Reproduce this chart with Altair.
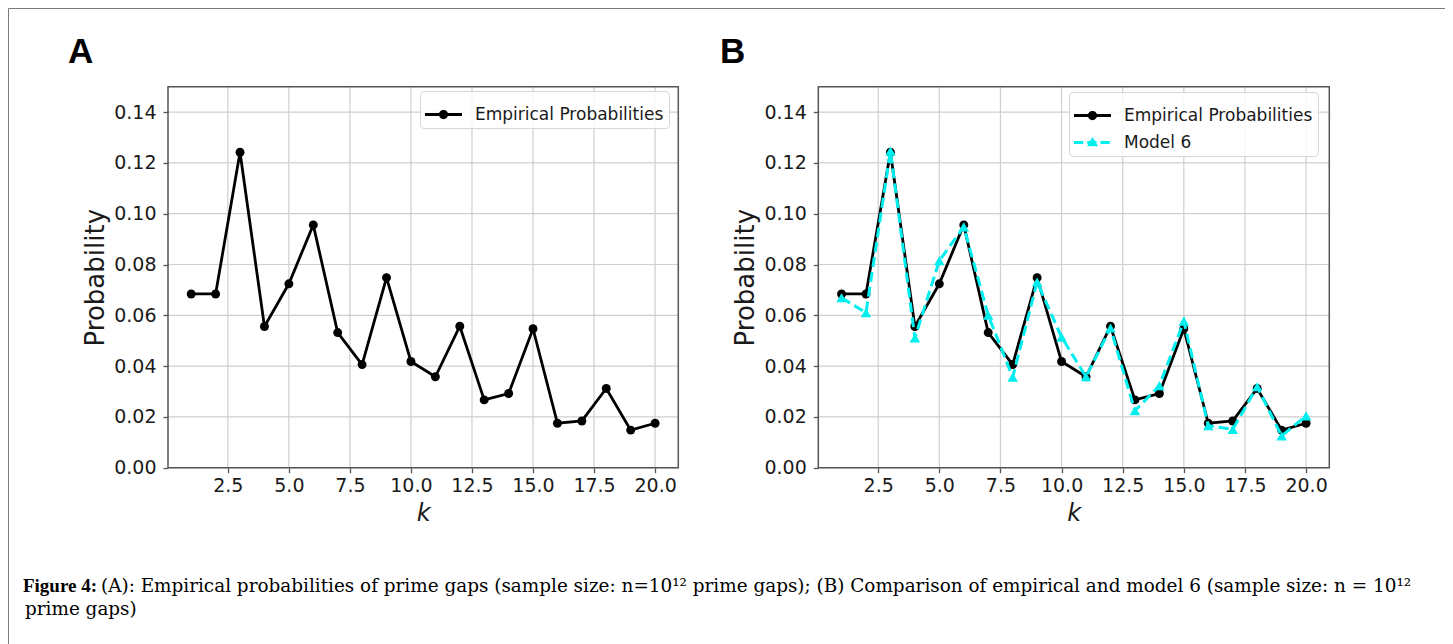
import altair as alt
import pandas as pd

# ---------------- data ----------------
k_values = list(range(1, 21))
empirical = [0.0684, 0.0684, 0.1242, 0.0556, 0.0724, 0.0956, 0.0532, 0.0406, 0.0748, 0.0418,
             0.0358, 0.0557, 0.0267, 0.0292, 0.0547, 0.0175, 0.0184, 0.0312, 0.0148, 0.0175]
model6 = [0.0669, 0.0610, 0.1247, 0.0511, 0.0815, 0.0948, 0.0600, 0.0356, 0.0731, 0.0514,
          0.0358, 0.0550, 0.0224, 0.0323, 0.0577, 0.0165, 0.0151, 0.0319, 0.0125, 0.0204]
x_ticks = [2.5, 5.0, 7.5, 10.0, 12.5, 15.0, 17.5, 20.0]
y_ticks = [0.00, 0.02, 0.04, 0.06, 0.08, 0.10, 0.12, 0.14]
x_domain = [0.05, 20.95]
y_domain = [0.0, 0.15]
series_names = ["Empirical Probabilities", "Model 6"]
panel_labels = ["A", "B"]
caption_bold = "Figure 4:"
caption_line1 = ("(A): Empirical probabilities of prime gaps (sample size: n=10\u00b9\u00b2 prime gaps); "
                 "(B) Comparison of empirical and model 6 (sample size: n = 10\u00b9\u00b2")
caption_line2 = "prime gaps)"

# ---------------- style / layout ----------------
W, H = 1437, 636
Y_RANGE = [459.7, 78.7]
A_X_RANGE = [160.0, 670.3]
B_X_RANGE = [810.3, 1321.3]
FONT = "DejaVu Sans"
GRID = "#cfcfcf"
SPINE = "#555555"
CYAN = "#00eeee"
EMP_PATH = ("M-1,-0.075H1V0.075H-1Z "
            "M-0.25,0A0.25,0.25 0 1,1 0.25,0A0.25,0.25 0 1,1 -0.25,0Z")
MOD_PATH = ("M-1,-0.08H-0.5V0.08H-1Z M-0.28,-0.08H0.22V0.08H-0.28Z "
            "M0.43,-0.08H0.93V0.08H0.43Z M-0.3,0.2L0,-0.3L0.3,0.2Z")

df = pd.DataFrame({"k": k_values, "emp": empirical, "mod": model6})


def make_panel(x_range, n_series, legend_x, legend_y):
    xs = alt.Scale(domain=x_domain, range=x_range, nice=False, zero=False)
    ys = alt.Scale(domain=y_domain, range=Y_RANGE, nice=False, zero=False)

    gx = pd.DataFrame({"t": x_ticks, "lo": y_domain[0], "hi": y_domain[1]})
    gy = pd.DataFrame({"t": y_ticks, "lo": x_domain[0], "hi": x_domain[1]})
    frame_df = pd.DataFrame({"x0": [x_domain[0]], "x1": [x_domain[1]],
                             "y0": [y_domain[0]], "y1": [y_domain[1]]})

    grid_v = alt.Chart(gx).mark_rule(color=GRID, strokeWidth=1.2).encode(
        x=alt.X("t:Q", scale=xs, axis=None),
        y=alt.Y("lo:Q", scale=ys, axis=None), y2="hi:Q")
    grid_h = alt.Chart(gy).mark_rule(color=GRID, strokeWidth=1.2).encode(
        y=alt.Y("t:Q", scale=ys, axis=None),
        x=alt.X("lo:Q", scale=xs, axis=None), x2="hi:Q")
    frame = alt.Chart(frame_df).mark_rect(fillOpacity=0, stroke=SPINE, strokeWidth=1.5).encode(
        x=alt.X("x0:Q", scale=xs, axis=None), x2="x1:Q",
        y=alt.Y("y0:Q", scale=ys, axis=None), y2="y1:Q")

    x_axis = alt.Axis(values=x_ticks, format=".1f", orient="bottom",
                      offset=-(H - Y_RANGE[0]), domain=False, grid=False,
                      tickSize=5, tickColor=SPINE, tickWidth=1.3, labelPadding=4,
                      labelFlush=False, labelOverlap=False,
                      title="k", titleFontStyle="italic", titlePadding=6)
    y_axis = alt.Axis(values=y_ticks, format=".2f", orient="left",
                      offset=-x_range[0], domain=False, grid=False,
                      tickSize=5, tickColor=SPINE, tickWidth=1.3, labelPadding=7,
                      labelOverlap=False, title="Probability", titleFontSize=26,
                      titlePadding=5)

    emp_line = alt.Chart(df).mark_line(color="black", strokeWidth=2.8).encode(
        x=alt.X("k:Q", scale=xs, axis=x_axis),
        y=alt.Y("emp:Q", scale=ys, axis=y_axis))
    emp_pts = alt.Chart(df).mark_point(filled=True, size=80, color="black",
                                       opacity=1, shape="circle").encode(
        x=alt.X("k:Q", scale=xs, axis=None),
        y=alt.Y("emp:Q", scale=ys, axis=None))

    layers = [grid_v, grid_h, emp_line, emp_pts]
    if n_series > 1:
        mod_line = alt.Chart(df).mark_line(color=CYAN, strokeWidth=3,
                                           strokeDash=[10, 5]).encode(
            x=alt.X("k:Q", scale=xs, axis=None),
            y=alt.Y("mod:Q", scale=ys, axis=None))
        mod_pts = alt.Chart(df).mark_point(filled=True, size=110, color=CYAN,
                                           opacity=1, shape="triangle-up").encode(
            x=alt.X("k:Q", scale=xs, axis=None),
            y=alt.Y("mod:Q", scale=ys, axis=None))
        layers += [mod_line, mod_pts]

    names = series_names[:n_series]
    leg_df = pd.DataFrame({"series": names,
                           "x": [x_domain[0]] * n_series,
                           "y": [y_domain[0]] * n_series})
    legend = alt.Legend(orient="none", legendX=legend_x, legendY=legend_y, title=None,
                        symbolSize=1369, symbolStrokeWidth=0, symbolOpacity=1,
                        labelFont=FONT, labelFontSize=17, labelColor="#1a1a1a",
                        labelLimit=500, labelOffset=13, padding=5, rowPadding=0,
                        strokeColor="#d6d6d6", fillColor="rgba(255,255,255,0.85)",
                        cornerRadius=4)
    leg_layer = alt.Chart(leg_df).mark_point(filled=True, opacity=0).encode(
        x=alt.X("x:Q", scale=xs, axis=None),
        y=alt.Y("y:Q", scale=ys, axis=None),
        color=alt.Color("series:N", scale=alt.Scale(domain=names, range=["black", CYAN][:n_series]),
                        legend=legend),
        shape=alt.Shape("series:N", scale=alt.Scale(domain=names, range=[EMP_PATH, MOD_PATH][:n_series]),
                        legend=legend))
    layers += [leg_layer, frame]
    return layers


def text_layer(txt, x, y, font, size, weight="normal", align="left"):
    return alt.Chart(pd.DataFrame({"t": [txt]})).mark_text(
        font=font, fontSize=size, fontWeight=weight, align=align,
        baseline="alphabetic", color="black").encode(
        x=alt.value(x), y=alt.value(y), text="t:N")


panel_a = make_panel(A_X_RANGE, 1, 412, 83)
panel_b = make_panel(B_X_RANGE, 2, 1061, 84)

label_a = text_layer(panel_labels[0], 60, 55, "Liberation Sans", 35, "bold")
label_b = text_layer(panel_labels[1], 712, 55, "Liberation Sans", 35, "bold")
cap_b = text_layer(caption_bold, 89, 584, "Liberation Serif", 19, "bold", "right")
cap_1 = text_layer(caption_line1, 93, 584, "DejaVu Serif", 18.4)
cap_2 = text_layer(caption_line2, 17, 607, "DejaVu Serif", 18.4)

chart = alt.layer(*panel_a, *panel_b, label_a, label_b, cap_b, cap_1, cap_2).resolve_scale(
    x="independent", y="independent", color="independent", shape="independent"
).resolve_axis(x="independent", y="independent").resolve_legend(
    color="independent", shape="independent"
).properties(
    width=W, height=H, padding=0, background="white",
    autosize=alt.AutoSizeParams(type="none")
).configure_view(stroke="#7a7a7a", strokeWidth=1).configure_axis(
    labelFont=FONT, labelFontSize=19, labelColor="#1a1a1a",
    titleFont=FONT, titleFontSize=24, titleFontWeight="normal", titleColor="#1a1a1a"
)

chart.save("out.html", embed_options={"renderer": "svg", "actions": False})
